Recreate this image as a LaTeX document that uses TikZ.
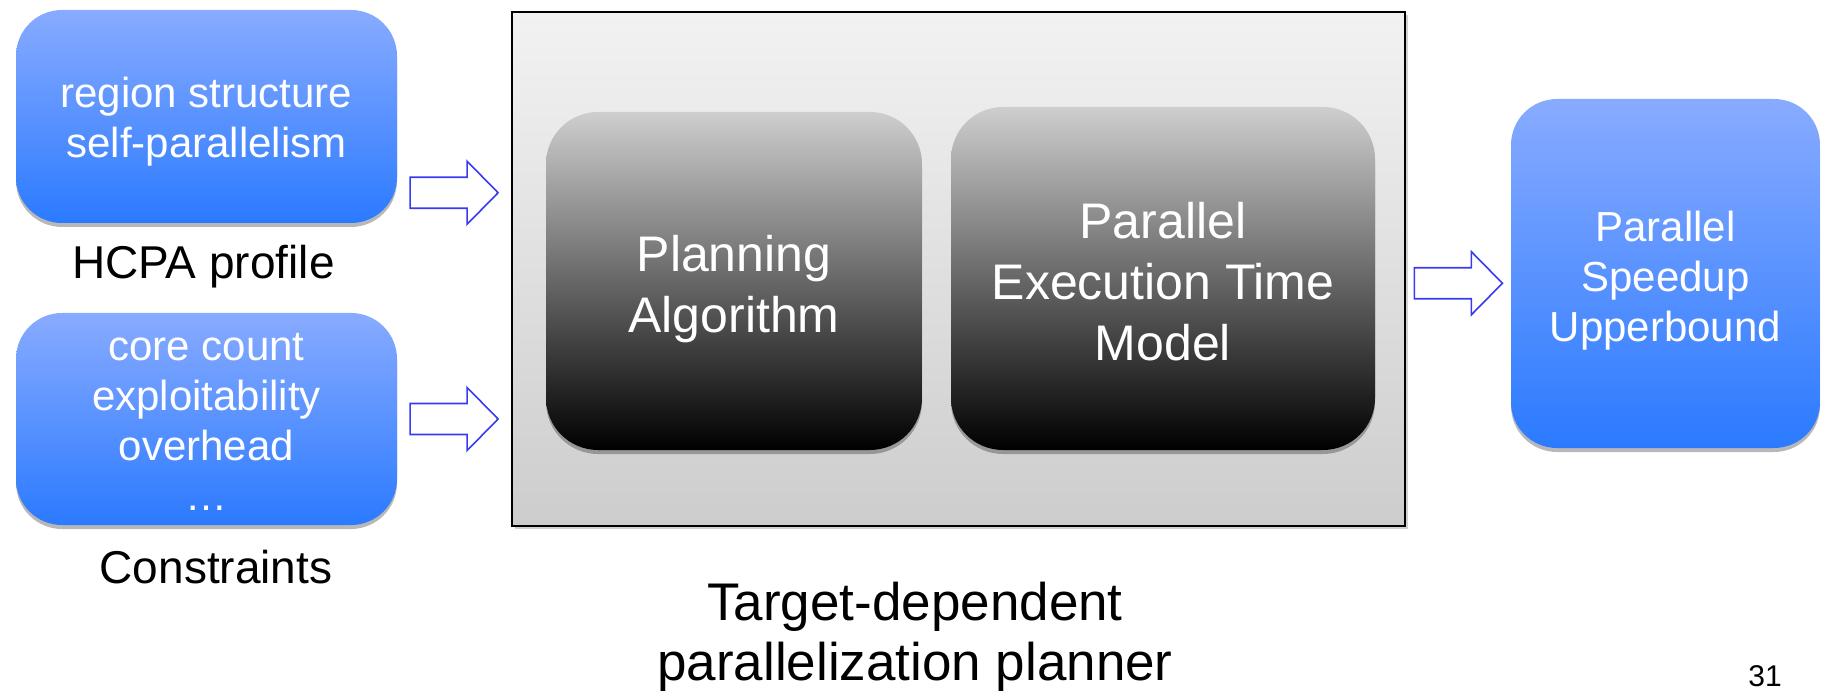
\documentclass[tikz,border=0pt]{standalone}
\usepackage{fontspec}
\setmainfont{Liberation Sans}
\usetikzlibrary{calc,shadows}

\definecolor{bluetop}{HTML}{88ABFF}
\definecolor{bluebot}{HTML}{2B7AFF}
\definecolor{arrowblue}{HTML}{3A3AF2}
\definecolor{paneltop}{HTML}{F2F2F2}
\definecolor{panelbot}{HTML}{CDCDCD}
\definecolor{darktop}{HTML}{CECECE}

\tikzset{
  softshadow/.style={drop shadow={shadow xshift=0pt, shadow yshift=-4pt, opacity=.28, fill=black}},
  bluebox/.style={rounded corners=46pt, top color=bluetop, bottom color=bluebot,
    draw=none, inner sep=0pt, softshadow},
  darkbox/.style={rounded corners=52pt, top color=darktop, bottom color=black,
    draw=none, inner sep=0pt, softshadow},
  panel/.style={top color=paneltop, bottom color=panelbot, draw=black,
    line width=2pt, inner sep=0pt,
    drop shadow={shadow xshift=3pt, shadow yshift=-3pt, opacity=.18, fill=black}},
  bluetext/.style={text=white, align=center, inner sep=0pt,
    font=\fontsize{42}{50}\selectfont},
  darktext/.style={text=white, align=center, inner sep=0pt,
    font=\fontsize{50}{61}\selectfont},
  labeltext/.style={text=black, inner sep=0pt, anchor=base,
    font=\fontsize{46}{55}\selectfont},
  captiontext/.style={text=black, align=center, inner sep=0pt,
    font=\fontsize{53}{60}\selectfont},
  pagenum/.style={text=black, inner sep=0pt, anchor=base,
    font=\fontsize{30}{36}\selectfont},
  blockarr/.pic={
    \draw[arrowblue, line width=1.6pt, fill=white, line join=miter]
      (-44,-15.5) -- (13,-15.5) -- (13,-31.5) -- (44,0)
      -- (13,31.5) -- (13,15.5) -- (-44,15.5) -- cycle;
  }
}

\begin{document}
\begin{tikzpicture}[x=1pt, y=-1pt]
  \useasboundingbox[fill=white] (0,0) rectangle (1825,692);

  % inputs on the left
  \node[bluebox, minimum width=381pt, minimum height=213pt] (hcpa) at (206.5,116.5) {};
  \node[bluetext] at ([yshift=-5pt]hcpa.center) {region structure\\self-parallelism};
  \node[labeltext] (hcpalabel) at (203.5,279) {HCPA profile};

  \node[bluebox, minimum width=381pt, minimum height=212pt] (cons) at (206.5,419) {};
  \node[bluetext] at ([yshift=-3pt]cons.center) {core count\\exploitability\\overhead\\…};
  \node[labeltext] (conslabel) at (216,583) {Constraints};

  % planner panel with its two components
  \node[panel, minimum width=893pt, minimum height=514pt] (planner) at (958.5,269) {};

  \node[darkbox, minimum width=376pt, minimum height=338pt] (planning) at (734,281) {};
  \node[darktext] at ([yshift=-8pt]planning.center) {Planning\\Algorithm};

  \node[darkbox, minimum width=424pt, minimum height=343pt] (model) at (1163,278.5) {};
  \node[darktext] at ([yshift=-3pt]model.center) {Parallel\\Execution Time\\Model};

  \node[captiontext] (caption) at (915,637) {Target-dependent\\parallelization planner};

  % output on the right
  \node[bluebox, minimum width=309pt, minimum height=349pt] (speedup) at (1665.5,273.5) {};
  \node[bluetext] at ([yshift=-7pt]speedup.center) {Parallel\\Speedup\\Upperbound};

  % block arrows between the stages
  \coordinate (a1) at ($(hcpa.east)!0.5!(planner.west)$);
  \coordinate (a2) at ($(cons.east)!0.5!(planner.west |- cons.east)$);
  \coordinate (a3) at ($([yshift=-12pt]planner.east)!0.5!([yshift=-12pt]speedup.west)$);
  \pic at (a1) {blockarr};
  \pic at (a2) {blockarr};
  \pic at (a3) {blockarr};

  \node[pagenum] (page) at (1765,686) {31};
\end{tikzpicture}
\end{document}
